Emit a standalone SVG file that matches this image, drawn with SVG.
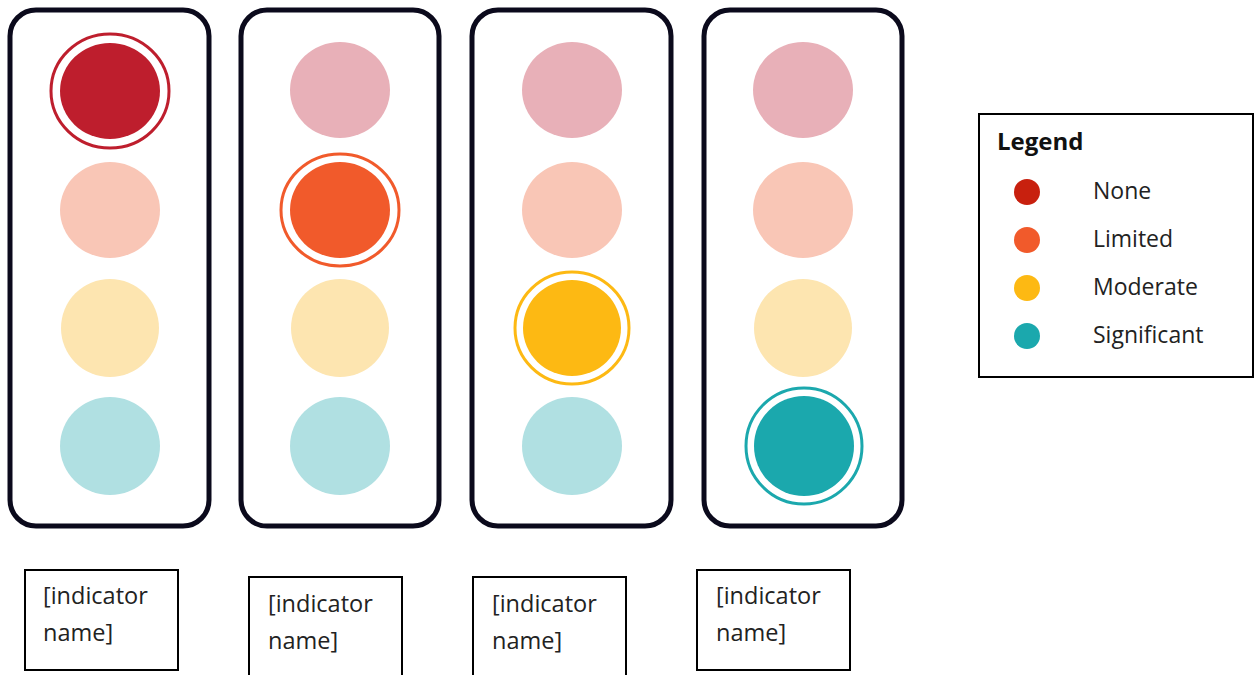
<svg xmlns="http://www.w3.org/2000/svg" width="1256" height="675" viewBox="0 0 1256 675">
<style>
.panel{fill:#fff;stroke:#0b0a1c;stroke-width:5}
.box{fill:#fff;stroke:#000;stroke-width:2}
.t{font-family:"Open Sans","Liberation Sans",sans-serif;font-size:23px;fill:#222}
.n{font-size:23.5px}
.ring{fill:none;stroke-width:3}
.pk{fill:#E8B0B8}.pe{fill:#F9C6B6}.ly{fill:#FDE5B0}.lt{fill:#B0E0E2}
</style>
<rect width="1256" height="675" fill="#fff"/>
<g id="panel1">
<rect class="panel" x="10" y="10" width="199" height="516" rx="26"/>
<ellipse cx="110" cy="91" rx="59" ry="57" class="ring" stroke="#BE1E2D"/>
<ellipse cx="110" cy="91" rx="50" ry="48" fill="#BE1E2D"/>
<ellipse class="pe" cx="110" cy="210" rx="50" ry="48"/>
<ellipse class="ly" cx="110" cy="328" rx="49" ry="49"/>
<ellipse class="lt" cx="110" cy="446" rx="50" ry="49"/>
</g>
<g id="panel2">
<rect class="panel" x="241" y="10" width="198" height="516" rx="26"/>
<ellipse class="pk" cx="340" cy="90" rx="50" ry="48"/>
<ellipse cx="340" cy="210" rx="59" ry="56" class="ring" stroke="#F15A2B"/>
<ellipse cx="340" cy="210" rx="50" ry="48" fill="#F15A2B"/>
<ellipse class="ly" cx="340" cy="328" rx="49" ry="49"/>
<ellipse class="lt" cx="340" cy="446" rx="50" ry="49"/>
</g>
<g id="panel3">
<rect class="panel" x="472" y="10" width="199" height="516" rx="26"/>
<ellipse class="pk" cx="572" cy="90" rx="50" ry="48"/>
<ellipse class="pe" cx="572" cy="210" rx="50" ry="48"/>
<ellipse cx="572" cy="328" rx="57" ry="56" class="ring" stroke="#FDB913"/>
<ellipse cx="572" cy="328" rx="49" ry="48" fill="#FDB913"/>
<ellipse class="lt" cx="572" cy="446" rx="50" ry="49"/>
</g>
<g id="panel4">
<rect class="panel" x="704" y="10" width="198" height="516" rx="26"/>
<ellipse class="pk" cx="803" cy="90" rx="50" ry="48"/>
<ellipse class="pe" cx="803" cy="210" rx="50" ry="48"/>
<ellipse class="ly" cx="803" cy="328" rx="49" ry="49"/>
<ellipse cx="804" cy="446" rx="58" ry="58" class="ring" stroke="#1BA8AD"/>
<ellipse cx="804" cy="446" rx="50" ry="50" fill="#1BA8AD"/>
</g>
<g id="legend">
<rect class="box" x="979" y="114" width="274" height="263"/>
<text x="997" y="150" class="t" style="font-weight:bold;font-size:24px;fill:#111">Legend</text>
<circle cx="1027" cy="192" r="13" fill="#C8200E"/>
<circle cx="1027" cy="240" r="13" fill="#F15A2B"/>
<circle cx="1027" cy="288" r="13" fill="#FDB913"/>
<circle cx="1027" cy="336" r="13" fill="#1BA8AD"/>
<text x="1093" y="199" class="t">None</text>
<text x="1093" y="247" class="t">Limited</text>
<text x="1093" y="295" class="t">Moderate</text>
<text x="1093" y="343" class="t">Significant</text>
</g>
<g id="label1">
<rect class="box" x="25" y="570" width="153" height="100"/>
<text x="43" y="604" class="t n">[indicator</text>
<text x="43" y="641" class="t n">name]</text>
</g>
<g id="label2">
<rect class="box" x="249" y="577" width="153" height="100"/>
<text x="268" y="612" class="t n">[indicator</text>
<text x="268" y="649" class="t n">name]</text>
</g>
<g id="label3">
<rect class="box" x="473" y="577" width="153" height="100"/>
<text x="492" y="612" class="t n">[indicator</text>
<text x="492" y="649" class="t n">name]</text>
</g>
<g id="label4">
<rect class="box" x="697" y="570" width="153" height="100"/>
<text x="716" y="604" class="t n">[indicator</text>
<text x="716" y="641" class="t n">name]</text>
</g>
<g id="connectors"/>
</svg>
